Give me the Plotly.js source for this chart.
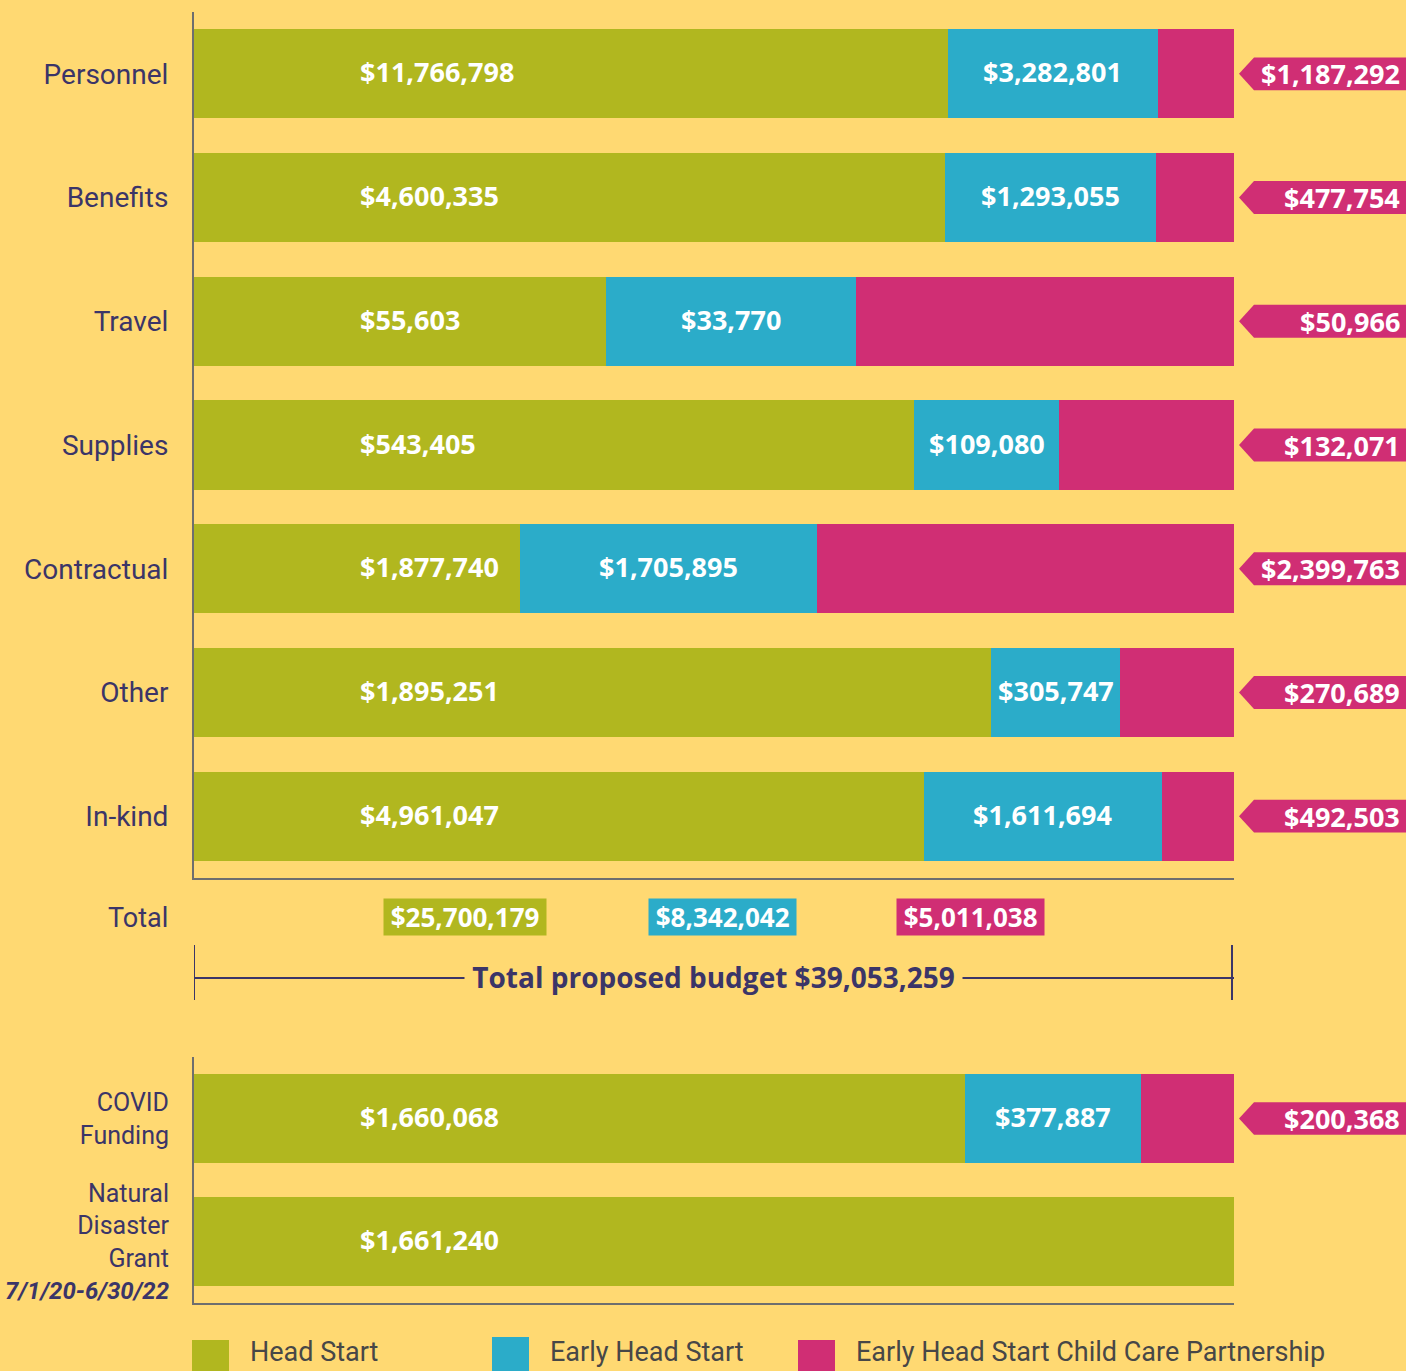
<!DOCTYPE html>
<html><head><meta charset="utf-8">
<script src="https://cdn.plot.ly/plotly-3.0.1.min.js"></script>
<style>html,body{margin:0;padding:0;background:#FFD972;overflow:hidden;}</style>
</head><body><div id="chart" style="width:1406px;height:1371px;"></div>
<script>
// ---- data ----
const categories = ["Personnel","Benefits","Travel","Supplies","Contractual","Other","In-kind"];
const headStart = [11766798,4600335,55603,543405,1877740,1895251,4961047];
const earlyHeadStart = [3282801,1293055,33770,109080,1705895,305747,1611694];
const partnership = [1187292,477754,50966,132071,2399763,270689,492503];

const extraCategories = ["COVID<br>Funding","Natural<br>Disaster<br>Grant<br><b><i><span style=\"font-size:24px\">7/1/20-6/30/22</span></i></b>"];
const extraHeadStart = [1660068,1661240];
const extraEarlyHeadStart = [377887,0];
const extraPartnership = [200368,0];

const seriesNames = ["Head Start","Early Head Start","Early Head Start Child Care Partnership"];
const totalLabel = "Total";
const budgetLabel = "Total proposed budget";

// ---- styling ----
const W = 1406, H = 1371;
const px = x => x / W, py = y => 1 - y / H;
const BG = "#FFD972", NAVY = "#3B3568", AXIS = "#6E6E6E";
const COLORS = ["#B1B71F", "#2BACC9", "#D02E74"];
const VALFONT = "'Open Sans', 'DejaVu Sans', sans-serif";
const LABFONT = "Roboto, 'Noto Sans', sans-serif";
const VALSIZE = 27;
const fmt = v => "$" + v.toLocaleString("en-US");
const sum = a => a.reduce((s, v) => s + v, 0);

const groups = [
  {cats: categories, vals: [headStart, earlyHeadStart, partnership], xa: "x", ya: "y"},
  {cats: extraCategories, vals: [extraHeadStart, extraEarlyHeadStart, extraPartnership], xa: "x2", ya: "y2"}
];

const traces = [];
const annotations = [];
const shapes = [];

groups.forEach((g, gi) => {
  const idx = g.cats.map((_, i) => i);
  g.vals.forEach((vals, si) => {
    traces.push({
      type: "bar", orientation: "h", name: seriesNames[si],
      x: vals, y: idx, xaxis: g.xa, yaxis: g.ya,
      marker: {color: COLORS[si], line: {width: 0}},
      textposition: "none", hoverinfo: "skip", showlegend: false
    });
  });
  idx.forEach(i => {
    const gV = g.vals[0][i], bV = g.vals[1][i], pV = g.vals[2][i];
    const tot = gV + bV + pV;
    const f = {family: VALFONT, size: VALSIZE, color: "#FFFFFF"};
    if (gV > 0) annotations.push({xref: g.xa, yref: g.ya, x: 0.158, y: i, xanchor: "left", yanchor: "middle", yshift: 2,
      text: "<b>" + fmt(gV) + "</b>", showarrow: false, font: f});
    if (bV > 0) annotations.push({xref: g.xa, yref: g.ya, x: (gV + bV / 2) / tot, y: i, xanchor: "center", yanchor: "middle", yshift: 2,
      text: "<b>" + fmt(bV) + "</b>", showarrow: false, font: f});
    if (pV > 0) {
      const h = 0.133;
      shapes.push({type: "path", xref: "paper", yref: g.ya, layer: "above",
        path: `M ${px(1239)},${i} L ${px(1254)},${i - h} L 1,${i - h} L 1,${i + h} L ${px(1254)},${i + h} Z`,
        fillcolor: COLORS[2], line: {width: 0}});
      annotations.push({xref: "paper", yref: g.ya, x: 1, y: i, xanchor: "right", yanchor: "middle", xshift: -4,
        text: "<b>" + fmt(pV) + "</b>", showarrow: false, font: f});
    }
  });
});

// Totals row
const totals = [sum(headStart), sum(earlyHeadStart), sum(partnership)];
const totalX = [465, 722, 970];
totals.forEach((t, si) => {
  annotations.push({xref: "paper", yref: "paper", x: px(totalX[si]), y: py(917), xanchor: "center", yanchor: "middle",
    text: "<b>\u00a0" + fmt(t) + "\u00a0</b>", showarrow: false, bgcolor: COLORS[si], borderpad: 0,
    font: {family: VALFONT, size: VALSIZE - 1, color: "#FFFFFF"}});
});
annotations.push({xref: "paper", yref: "paper", x: px(170), y: py(918), xanchor: "right", yanchor: "middle",
  text: totalLabel, showarrow: false, font: {family: LABFONT, size: 27, color: NAVY}});

// Bracket
shapes.push({type: "line", xref: "x", yref: "paper", x0: 0, x1: 0, y0: py(945), y1: py(1000), line: {color: NAVY, width: 2}});
shapes.push({type: "line", xref: "paper", yref: "paper", x0: px(1232), x1: px(1232), y0: py(945), y1: py(1000), line: {color: NAVY, width: 2}});
shapes.push({type: "line", xref: "x", yref: "paper", x0: 0, x1: 1, y0: py(978), y1: py(978), line: {color: NAVY, width: 2}});
annotations.push({xref: "paper", yref: "paper", x: px(713), y: py(977), xanchor: "center", yanchor: "middle",
  text: "<b>\u00a0" + budgetLabel + " " + fmt(sum(totals)) + "\u00a0</b>", showarrow: false, bgcolor: BG, borderpad: 0,
  font: {family: VALFONT, size: 28, color: NAVY}});

// Legend
const legSq = [[192, 1340], [492, 1337], [798, 1340]];
const legTx = [248, 548, 854];
seriesNames.forEach((n, si) => {
  shapes.push({type: "rect", xref: "paper", yref: "paper", x0: px(legSq[si][0]), x1: px(legSq[si][0] + 37),
    y0: py(legSq[si][1]), y1: py(1380), fillcolor: COLORS[si], line: {width: 0}});
  annotations.push({xref: "paper", yref: "paper", x: px(legTx[si]), y: py(1352), xanchor: "left", yanchor: "middle",
    text: n, showarrow: false, font: {family: LABFONT, size: 27, color: "#474747"}});
});

const yCommon = {type: "linear", showgrid: false, zeroline: false, showline: true, linecolor: AXIS, linewidth: 2,
  ticks: "", ticklabelstandoff: 18, fixedrange: true};
const xCommon = {type: "linear", range: [0, 1], showgrid: false, zeroline: false, showline: true, linecolor: AXIS, linewidth: 2,
  showticklabels: false, ticks: "", fixedrange: true, domain: [px(194), px(1234)]};

const layout = {
  width: W, height: H, margin: {l: 0, r: 0, t: 0, b: 0},
  paper_bgcolor: BG, plot_bgcolor: BG,
  barmode: "stack", barnorm: "fraction", bargap: 0.28,
  showlegend: false,
  xaxis: Object.assign({}, xCommon, {anchor: "y"}),
  yaxis: Object.assign({}, yCommon, {anchor: "x", domain: [py(878), py(12)],
    tickfont: {family: LABFONT, size: 28, color: NAVY},
    range: [categories.length - 0.5, -0.5], tickvals: categories.map((_, i) => i), ticktext: categories}),
  xaxis2: Object.assign({}, xCommon, {anchor: "y2"}),
  yaxis2: Object.assign({}, yCommon, {anchor: "x2", domain: [py(1303), py(1057)],
    tickfont: {family: LABFONT, size: 25, color: NAVY},
    range: [extraCategories.length - 0.5, -0.5], tickvals: extraCategories.map((_, i) => i), ticktext: extraCategories}),
  annotations: annotations, shapes: shapes
};

Plotly.newPlot("chart", traces, layout, {displayModeBar: false, staticPlot: true});
</script></body></html>
